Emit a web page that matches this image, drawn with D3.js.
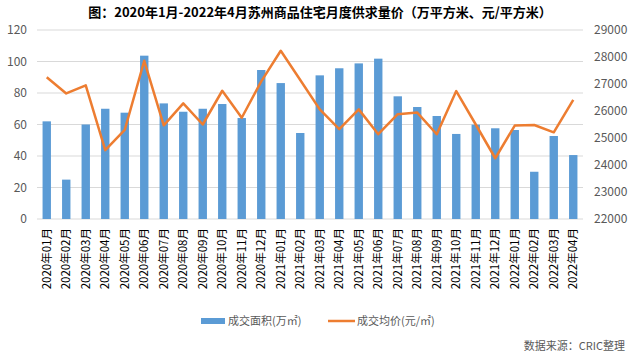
<!DOCTYPE html>
<html><head><meta charset="utf-8">
<script src="https://cdn.jsdelivr.net/npm/d3@7"></script>
<style>
body{margin:0;background:#fff;}
text{font-family:"Noto Sans CJK SC","Liberation Sans",sans-serif;}
</style></head>
<body>
<svg id="c" width="640" height="356"></svg>
<script>
const categories = ["2020年01月","2020年02月","2020年03月","2020年04月","2020年05月","2020年06月","2020年07月","2020年08月","2020年09月","2020年10月","2020年11月","2020年12月","2021年01月","2021年02月","2021年03月","2021年04月","2021年05月","2021年06月","2021年07月","2021年08月","2021年09月","2021年10月","2021年11月","2021年12月","2022年01月","2022年02月","2022年03月","2022年04月"];
const area = [62,25,60,70,67.5,103.7,73.4,68.1,70,73,64.1,94.6,86.3,54.6,91.2,95.7,98.8,101.8,77.9,71.1,65.4,54,59.9,57.6,56.5,30,52.7,40.6];
const price = [27250,26650,26950,24550,25300,27860,25470,26280,25500,26750,25750,27100,28230,27150,26060,25330,26060,25140,25880,25940,25140,26740,25500,24250,25460,25480,25210,26410];
const leftTicks = [0,20,40,60,80,100,120];
const rightTicks = [22000,23000,24000,25000,26000,27000,28000,29000];
const title = "图：2020年1月-2022年4月苏州商品住宅月度供求量价（万平方米、元/平方米）";
const legendNames = ["成交面积(万㎡)","成交均价(元/㎡)"];
const source = "数据来源：CRIC整理";

const svg = d3.select("#c");
const L = 37, R = 583, T = 30, B = 219;
const x = d3.scaleBand().domain(categories).range([L, R]).paddingInner(0.57).paddingOuter(0.285);
const y = d3.scaleLinear().domain([0,120]).range([B, T]);
const y2 = d3.scaleLinear().domain([22000,29000]).range([B, T]);

svg.append("text").attr("x",320).attr("y",17).attr("text-anchor","middle")
  .attr("font-size",13).attr("font-weight","bold").attr("fill","#000").text(title);

// grid
svg.append("g").selectAll("line").data(leftTicks).join("line")
  .attr("x1",L).attr("x2",R).attr("y1",d=>y(d)).attr("y2",d=>y(d))
  .attr("stroke","#d9d9d9").attr("stroke-width",1);

// left axis
const gl = svg.append("g").attr("transform",`translate(${L-10},0)`)
  .call(d3.axisLeft(y).tickValues(leftTicks).tickSize(0).tickPadding(0).tickFormat(d3.format("d")));
gl.select(".domain").remove();
gl.selectAll("text").attr("font-size",12).attr("fill","#595959").attr("font-family","Liberation Sans, Arial, sans-serif");

const gr = svg.append("g").attr("transform",`translate(${R+11},0)`)
  .call(d3.axisRight(y2).tickValues(rightTicks).tickSize(0).tickPadding(0).tickFormat(d3.format("d")));
gr.select(".domain").remove();
gr.selectAll("text").attr("font-size",12).attr("fill","#595959").attr("font-family","Liberation Sans, Arial, sans-serif");

// bars
svg.append("g").selectAll("rect").data(area).join("rect")
  .attr("x",(d,i)=>x(categories[i])).attr("width",x.bandwidth())
  .attr("y",d=>y(d)).attr("height",d=>B-y(d)).attr("fill","#5B9BD5");

// line
const line = d3.line().x((d,i)=>x(categories[i])+x.bandwidth()/2).y(d=>y2(d));
svg.append("path").datum(price).attr("d",line).attr("fill","none")
  .attr("stroke","#ED7D31").attr("stroke-width",2.5).attr("stroke-linejoin","round");

// x labels
svg.append("g").selectAll("text").data(categories).join("text")
  .attr("transform",(d)=>`translate(${x(d)+x.bandwidth()/2+4},228) rotate(-90)`)
  .attr("text-anchor","end").attr("font-size",11.5).attr("fill","#000").text(d=>d);

// legend
svg.append("rect").attr("x",201).attr("y",318).attr("width",24).attr("height",6).attr("fill","#5B9BD5");
svg.append("text").attr("x",228).attr("y",325).attr("font-size",11).attr("fill","#595959").text(legendNames[0]);
svg.append("line").attr("x1",328).attr("x2",355).attr("y1",321).attr("y2",321).attr("stroke","#ED7D31").attr("stroke-width",2.5);
svg.append("text").attr("x",357).attr("y",325).attr("font-size",11).attr("fill","#595959").text(legendNames[1]);

svg.append("text").attr("x",625).attr("y",350).attr("text-anchor","end").attr("font-size",11).attr("fill","#595959").text(source);
</script>
</body></html>
